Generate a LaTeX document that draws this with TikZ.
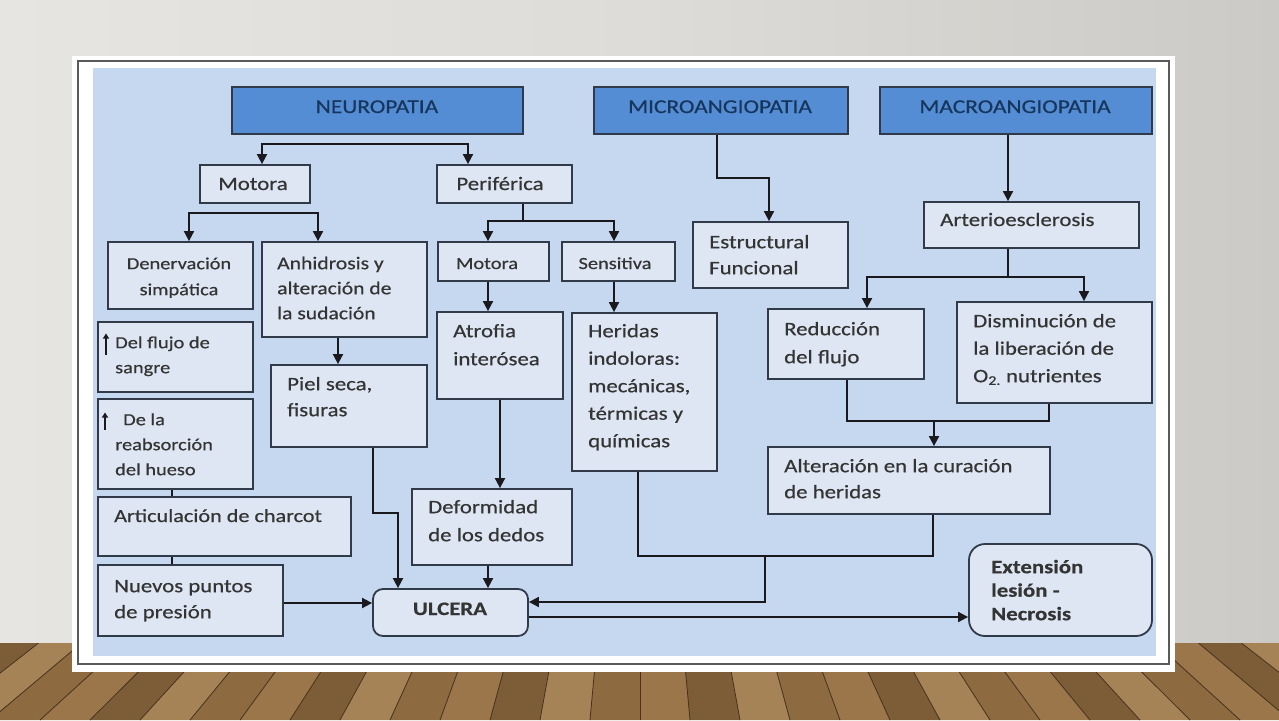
\documentclass[tikz,border=0pt]{standalone}
\usepackage{fontspec}
\setmainfont{Carlito}[FakeStretch=1.2,FakeBold=0.5]
\usetikzlibrary{arrows.meta,calc}
\definecolor{wallL}{RGB}{231,229,225}
\definecolor{wallM}{RGB}{222,220,216}
\definecolor{wallR}{RGB}{204,202,198}
\definecolor{floorA}{RGB}{141,106,64}
\definecolor{floorB}{RGB}{166,131,86}
\definecolor{floorC}{RGB}{125,93,56}
\definecolor{floorD}{RGB}{154,118,74}
\definecolor{floorLine}{RGB}{70,50,30}
\definecolor{panelc}{RGB}{198,216,240}
\definecolor{boxc}{RGB}{221,230,242}
\definecolor{hdrc}{RGB}{84,141,212}
\definecolor{bordc}{RGB}{48,58,72}
\definecolor{hdrtxt}{RGB}{23,54,93}
\definecolor{txtc}{RGB}{52,52,52}
\definecolor{linec}{RGB}{25,25,30}
\definecolor{framec}{RGB}{90,90,90}
\tikzset{
  box/.style={draw=bordc,fill=boxc,line width=1.8pt,inner sep=0pt,rectangle},
  hbox/.style={draw=bordc,fill=hdrc,line width=1.8pt,inner sep=0pt,rectangle},
  rbox/.style={box,rounded corners=#1},
  hdr/.style={anchor=base,inner sep=0pt,text=hdrtxt,font=\fontsize{19.5}{24}\selectfont},
  txt/.style={anchor=north west,inner sep=0pt,align=left,text=txtc},
  one/.style={anchor=base,inner sep=0pt,text=txtc},
  ln/.style={line width=1.8pt,draw=linec},
  arr/.style={ln,-{Triangle[length=10pt,width=10pt]}},
  arrtwo/.style={ln,{Triangle[length=10pt,width=10pt]}-{Triangle[length=10pt,width=10pt]}},
  uparr/.style={line width=1.3pt,draw=linec,-{Triangle[length=5pt,width=6pt]}}
}
\newcommand\mkbox[6]{\node[#1,minimum width={#5-#3},minimum height={#6-#4}] (#2) at ({(#3+#5)/2},{(#4+#6)/2}) {};}
\newcommand\ML[7][]{\node[txt,font=\fontsize{#4}{#5}\selectfont,#1] (#2) at ({#3},{#6-0.7*#5}) {\strut #7};}
\begin{document}
\begin{tikzpicture}[x=1pt,y=-1pt]
\useasboundingbox (0,0) rectangle (1279,720);
% wall
\shade[left color=wallL,right color=wallR,middle color=wallM] (0,0) rectangle (1279,643);
% floor
\begin{scope}
\clip (0,643) rectangle (1279,720);
\fill[floorA] (0,643) rectangle (1279,720);
\foreach \i [count=\k] in {-16,...,16} {
  \pgfmathsetmacro\xa{640+50*\i}
  \pgfmathsetmacro\xb{640+50*(\i+1)}
  \pgfmathsetmacro\ta{640+42.96*\i}
  \pgfmathsetmacro\tb{640+42.96*(\i+1)}
  \pgfmathtruncatemacro\m{mod(\k*3,4)}
  \ifnum\m=0 \def\pc{floorA}\fi
  \ifnum\m=1 \def\pc{floorB}\fi
  \ifnum\m=2 \def\pc{floorC}\fi
  \ifnum\m=3 \def\pc{floorD}\fi
  \fill[\pc] (\xa,720) -- (\xb,720) -- (\tb,643) -- (\ta,643) -- cycle;
  \draw[floorLine,line width=0.8pt] (\xa,720) -- (\ta,643);
}
\end{scope}
% frame and panel
\fill[white] (72,56) rectangle (1175,672);
\draw[framec,line width=1.2pt] (78,61) rectangle (1169,664);
\fill[panelc] (93,68) rectangle (1156,656);
% boxes
\mkbox{hbox}{neuro}{232}{87}{523}{134}
\mkbox{hbox}{micro}{594}{87}{848}{134}
\mkbox{hbox}{macro}{880}{87}{1152}{134}
\mkbox{box}{motora}{200}{165}{310}{203}
\mkbox{box}{perif}{437}{165}{572}{203}
\mkbox{box}{denerv}{108}{242}{253}{309}
\mkbox{box}{anhid}{262}{242}{427}{337}
\mkbox{box}{motorados}{438}{242}{549}{281}
\mkbox{box}{sensit}{562}{242}{675}{281}
\mkbox{box}{estruc}{693}{222}{848}{288}
\mkbox{box}{arterio}{924}{202}{1139}{248}
\mkbox{box}{flujo}{98}{322}{253}{392}
\mkbox{box}{piel}{271}{365}{427}{447}
\mkbox{box}{atrofia}{437}{312}{563}{399}
\mkbox{box}{heridas}{572}{313}{717}{471}
\mkbox{box}{reduc}{768}{309}{924}{379}
\mkbox{box}{dismin}{957}{302}{1152}{403}
\mkbox{box}{reabs}{98}{399}{253}{489}
\mkbox{box}{alter}{768}{447}{1050}{514}
\mkbox{box}{charcot}{98}{497}{351}{556}
\mkbox{box}{deform}{412}{489}{572}{565}
\mkbox{box}{nuevos}{98}{565}{283}{636}
\mkbox{rbox=10pt}{ulcera}{373}{589}{528}{636}
\mkbox{rbox=16pt}{exten}{969}{544}{1152}{636}
% texts
\node[hdr] (tneuro) at (377,113) {NEUROPATIA};
\node[hdr] (tmicro) at (720,113) {MICROANGIOPATIA};
\node[hdr] (tmacro) at (1015,113) {MACROANGIOPATIA};
\node[one,font=\fontsize{19}{24}\selectfont] (tmotora) at (253,190) {Motora};
\node[one,font=\fontsize{19}{24}\selectfont] (tperif) at (500,190) {Periférica};
\node[txt,align=center,anchor=north,font=\fontsize{17}{26}\selectfont] (tdenerv) at (179,{269-0.7*26}) {\strut Denervación\\simpática};
\ML{tanhid}{277}{18}{25}{269}{Anhidrosis y\\alteración de\\la sudación}
\node[one,font=\fontsize{17}{24}\selectfont] (tmotdos) at (487,269) {Motora};
\node[one,font=\fontsize{17}{24}\selectfont] (tsens) at (615,269) {Sensitiva};
\ML{testruc}{709}{19}{26}{248}{Estructural\\Funcional}
\node[one,anchor=base west,font=\fontsize{19}{24}\selectfont] (tarterio) at (940,226) {Arterioesclerosis};
\ML{tflujo}{115}{17}{25}{348}{Del flujo de\\sangre}
\ML{treabs}{115}{17}{25}{425}{\hspace{8pt}De la\\reabsorción\\del hueso}
\ML{tpiel}{287}{19}{26}{390}{Piel seca,\\fisuras}
\ML{tatrof}{453}{19}{28}{337}{Atrofia\\interósea}
\ML{therid}{588}{19}{27.5}{337}{Heridas\\indoloras:\\mecánicas,\\térmicas y\\químicas}
\ML{treduc}{784}{19}{28}{335}{Reducción\\del flujo}
\ML{tdismin}{973}{19}{27.5}{327}{Disminución de\\la liberación de\\O\textsubscript{2.} nutrientes}
\ML{talter}{784}{19}{26}{472}{Alteración en la curación\\de heridas}
\node[one,anchor=base west,font=\fontsize{18.5}{24}\selectfont] (tcharcot) at (114,522) {Articulación de charcot};
\ML{tdeform}{428}{19}{28}{513}{Deformidad\\de los dedos}
\ML{tnuevos}{114}{19}{26}{592}{Nuevos puntos\\de presión}
\node[one,font=\fontsize{19}{24}\selectfont\bfseries] (tulcera) at (450,615) {ULCERA};
\ML[font=\fontsize{19}{23.5}\selectfont\bfseries]{texten}{991}{19}{23.5}{573}{Extensión\\lesión -\\Necrosis}
% small up arrows inside boxes
\draw[uparr] ($(tflujo.north west)+(-9,24)$) -- ($(tflujo.north west)+(-9,3)$);
\draw[uparr] ($(treabs.north west)+(-10,22)$) -- ($(treabs.north west)+(-10,5)$);
% connectors
\coordinate (a1) at (262,144); \coordinate (a2) at (468,144);
\draw[arrtwo] (a1 |- motora.north) -- (a1) -- (a2) -- (a2 |- perif.north);
\coordinate (b1) at (189,213); \coordinate (b2) at (318,213);
\draw[arrtwo] (b1 |- denerv.north) -- (b1) -- (b2) -- (b2 |- anhid.north);
\coordinate (c0) at (523,221); \coordinate (c1) at (488,221); \coordinate (c2) at (614,221);
\draw[ln] (perif.south -| c0) -- (c0);
\draw[arrtwo] (c1 |- motorados.north) -- (c1) -- (c2) -- (c2 |- sensit.north);
\draw[arr] (motorados.south -| c1) -- (c1 |- atrofia.north);
\draw[arr] (sensit.south -| c2) -- (c2 |- heridas.north);
\coordinate (d1) at (717,178); \coordinate (d2) at (769,178);
\draw[arr] (micro.south -| d1) -- (d1) -- (d2) -- (d2 |- estruc.north);
\coordinate (e0) at (1008,277); \coordinate (e1) at (867,277); \coordinate (e2) at (1084,277);
\draw[arr] (macro.south -| e0) -- (e0 |- arterio.north);
\draw[ln] (arterio.south -| e0) -- (e0);
\draw[arrtwo] (e1 |- reduc.north) -- (e1) -- (e2) -- (e2 |- dismin.north);
\coordinate (f1) at (338,350);
\draw[arr] (anhid.south -| f1) -- (f1 |- piel.north);
\coordinate (g1) at (373,513); \coordinate (g2) at (398,513);
\draw[arr] (piel.south -| g1) -- (g1) -- (g2) -- (g2 |- ulcera.north);
\coordinate (h1) at (500,440);
\draw[arr] (atrofia.south -| h1) -- (h1 |- deform.north);
\coordinate (h2) at (488,577);
\draw[arr] (deform.south -| h2) -- (h2 |- ulcera.north);
\coordinate (i1) at (300,603);
\draw[arr] (nuevos.east |- i1) -- (ulcera.west |- i1);
\coordinate (k1) at (847,421); \coordinate (k2) at (1049,421); \coordinate (k3) at (934,421);
\draw[ln] (reduc.south -| k1) -- (k1) -- (k2) -- (dismin.south -| k2);
\draw[arr] (k3) -- (k3 |- alter.north);
\coordinate (m1) at (638,556); \coordinate (m2) at (933,556); \coordinate (m3) at (765,556); \coordinate (m4) at (765,602);
\draw[ln] (heridas.south -| m1) -- (m1) -- (m2) -- (alter.south -| m2);
\draw[arr] (m3) -- (m4) -- (ulcera.east |- m4);
\coordinate (n1) at (700,617);
\draw[arr] (ulcera.east |- n1) -- (exten.west |- n1);
\coordinate (p1) at (172,500);
\draw[ln] (reabs.south -| p1) -- (charcot.north -| p1);
\draw[ln] (charcot.south -| p1) -- (nuevos.north -| p1);
\end{tikzpicture}
\end{document}
